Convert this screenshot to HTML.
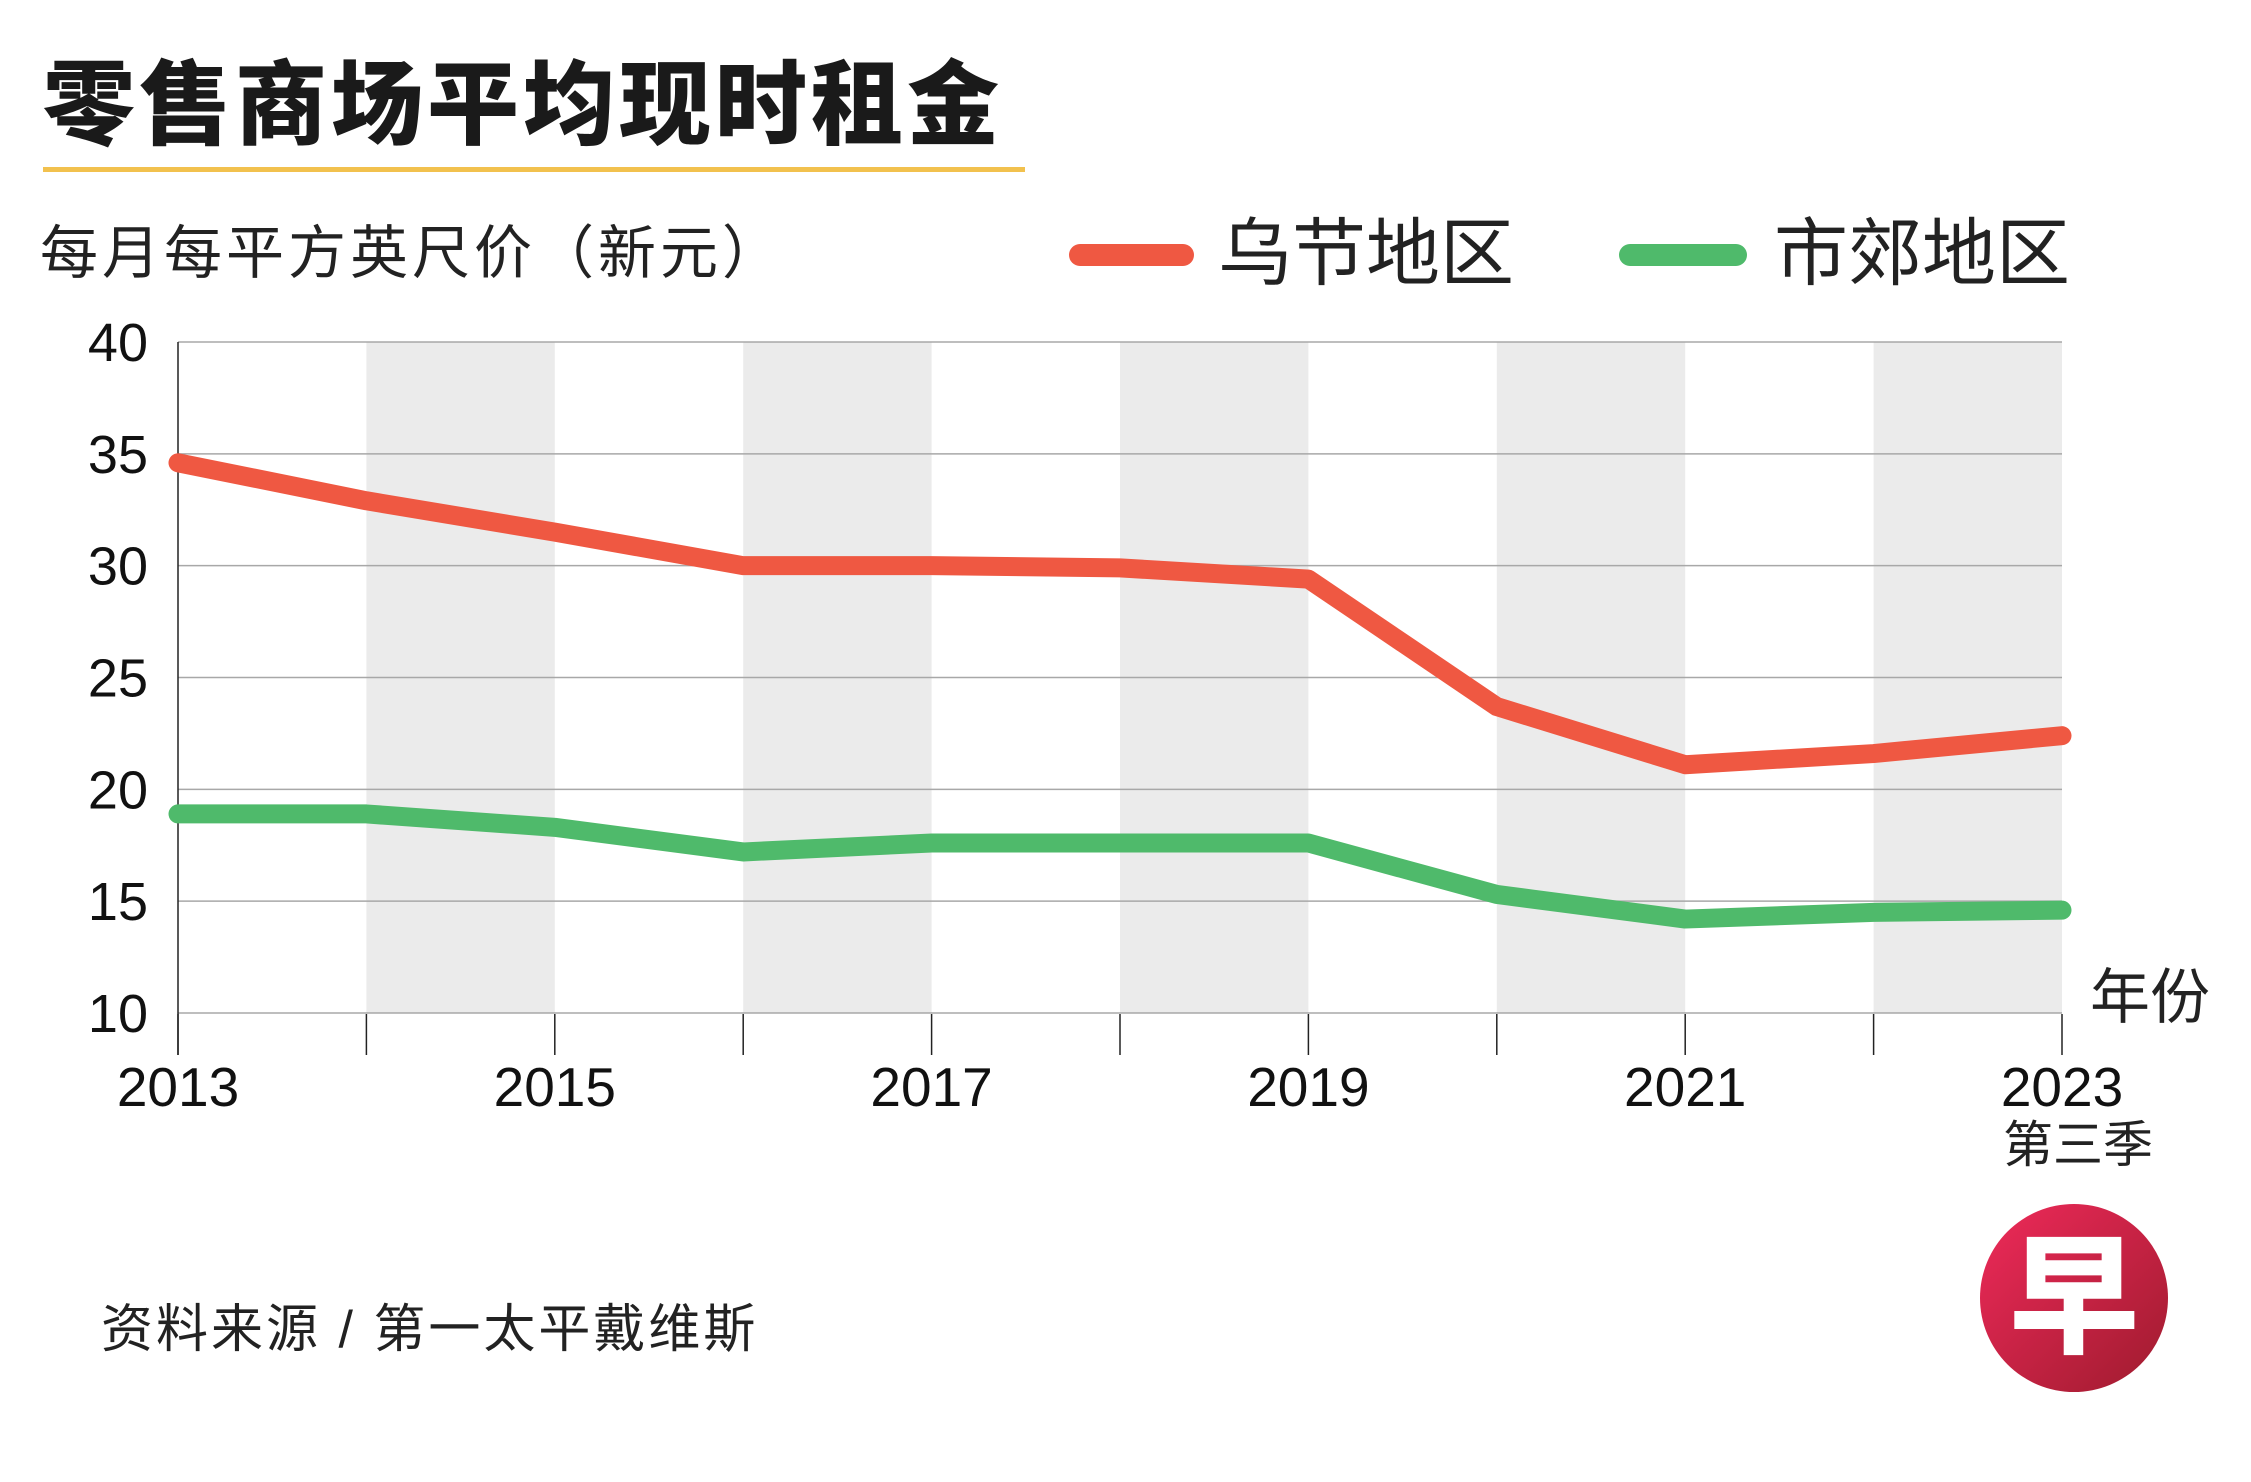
<!DOCTYPE html>
<html><head><meta charset="utf-8"><style>
html,body{margin:0;padding:0;background:#fff;}
svg{display:block;font-family:"Liberation Sans","Noto Sans CJK SC",sans-serif;}
</style></head><body>
<svg id="chart" width="2251" height="1482" viewBox="0 0 2251 1482">
<text x="43" y="137" font-size="92" font-weight="900" letter-spacing="4" fill="#1a1a1a" font-family="Liberation Sans, Noto Sans CJK SC, sans-serif">零售商场平均现时租金</text>
<rect x="43" y="167" width="982" height="5" fill="#f2c14e"/>
<text x="40" y="273" font-size="58" letter-spacing="4" fill="#222">每月每平方英尺价（新元）</text>
<g>
<line x1="1080" y1="255" x2="1183" y2="255" stroke="#ef5842" stroke-width="22" stroke-linecap="round"/>
<text x="1218" y="279" font-size="74" fill="#222">乌节地区</text></g>
<g>
<line x1="1630" y1="255" x2="1736" y2="255" stroke="#4fba6b" stroke-width="22" stroke-linecap="round"/>
<text x="1774" y="279" font-size="74" fill="#222">市郊地区</text></g>
<g id="bands"></g><g id="grid"></g><g id="axes"></g><g id="lines"></g>
<text x="2090" y="1018" font-size="60" fill="#222">年份</text>
<text x="2078" y="1162" font-size="50" fill="#222" text-anchor="middle">第三季</text>
<text x="101" y="1347" font-size="52" letter-spacing="3" fill="#222">资料来源 / 第一太平戴维斯</text>
<defs><linearGradient id="lg" x1="0" y1="0" x2="1" y2="1"><stop offset="0" stop-color="#ef2a5a"/><stop offset="1" stop-color="#9e1b2e"/></linearGradient></defs>
<g>
<circle cx="2074" cy="1298" r="94" fill="url(#lg)"/>
<text x="2074" y="1343" font-size="130" font-weight="900" fill="#fff" text-anchor="middle">早</text></g>
</svg>
<script>
const years=[2013,2014,2015,2016,2017,2018,2019,2020,2021,2022,2023];
const xLabels=["2013","","2015","","2017","","2019","","2021","","2023"];
const yTicks=[10,15,20,25,30,35,40];
const orchard=[34.6,32.9,31.5,30.0,30.0,29.9,29.4,23.7,21.1,21.6,22.4];
const suburban=[18.9,18.9,18.3,17.2,17.6,17.6,17.6,15.3,14.2,14.5,14.6];
const NS="http://www.w3.org/2000/svg";
const X0=178,XS=188.4,Y0=1013,YS=(1013-342)/30;
const x=i=>X0+XS*i, y=v=>Y0-(v-10)*YS;
function mk(t,a,p){const e=document.createElementNS(NS,t);for(const k in a)e.setAttribute(k,a[k]);p.appendChild(e);return e;}
const bands=document.getElementById('bands'),grid=document.getElementById('grid'),axes=document.getElementById('axes'),lines=document.getElementById('lines');
for(let i=1;i<years.length;i+=2){
 const r=mk('rect',{x:x(i),y:y(40),width:XS,height:y(10)-y(40),fill:'#ebebeb'},bands);
 
 
}
yTicks.forEach(v=>{
 const l=mk('line',{x1:X0,x2:x(10),y1:y(v),y2:y(v),stroke:'#a8a8a8','stroke-width':1.5},grid);
 
 
 const t=mk('text',{x:148,y:y(v)+19,'font-size':54,'text-anchor':'end',fill:'#111'},axes);
 t.textContent=v;
 
 
});
const ax=mk('line',{x1:X0,x2:X0,y1:y(40),y2:1055,stroke:'#222','stroke-width':1.5},axes);


years.forEach((yr,i)=>{
 const tk=mk('line',{x1:x(i),x2:x(i),y1:1014,y2:1055,stroke:'#222','stroke-width':1.5},axes);
 
 
 if(xLabels[i]){
  const t=mk('text',{x:x(i),y:1106,'font-size':55,'text-anchor':'middle',fill:'#111'},axes);
  t.textContent=xLabels[i];
  
  
 }
});
function series(vals,color,name){
 const p=mk('polyline',{points:vals.map((v,i)=>x(i)+','+y(v)).join(' '),fill:'none',stroke:color,'stroke-width':19,'stroke-linecap':'round','stroke-linejoin':'round'},lines);
 
 
}
series(suburban,'#4fba6b','line-suburban');
series(orchard,'#ef5842','line-orchard');
</script>
</body></html>
